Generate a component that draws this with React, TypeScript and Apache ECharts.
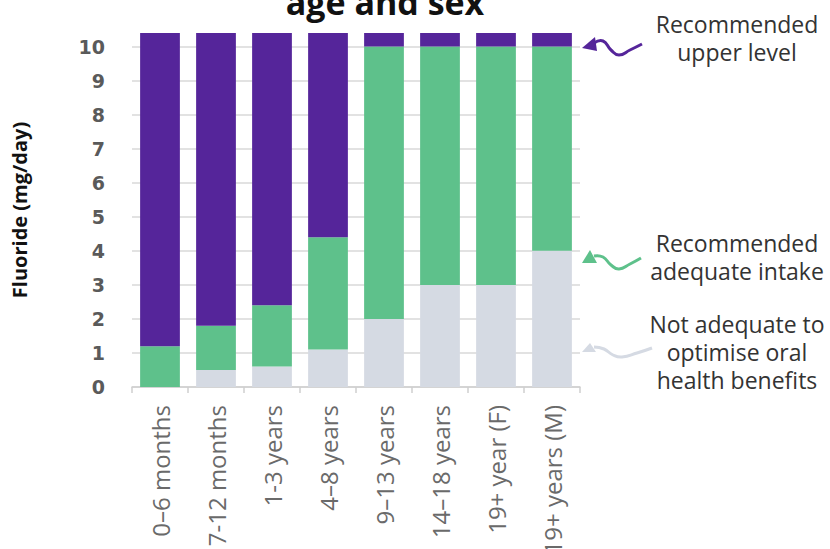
import React, { useEffect, useRef } from "react";
import * as echarts from "echarts";

const categories = [
  "0–6 months",
  "7-12 months",
  "1-3 years",
  "4–8 years",
  "9–13 years",
  "14–18 years",
  "19+ year (F)",
  "19+ years (M)",
];
// cumulative levels (mg/day)
const notAdequateTop = [0, 0.5, 0.6, 1.1, 2, 3, 3, 4];
const adequateTop = [1.2, 1.8, 2.4, 4.4, 10, 10, 10, 10];
const upperTop = [10.4, 10.4, 10.4, 10.4, 10.4, 10.4, 10.4, 10.4];

const PURPLE = "#55259a";
const GREEN = "#5ec18b";
const GREY = "#d5dae3";

const diff = (a: number[], b: number[]) => a.map((v, i) => Number((v - b[i]).toFixed(2)));

export default function App() {
  const ref = useRef<HTMLDivElement>(null);
  useEffect(() => {
    if (!ref.current) return;
    const chart = echarts.init(ref.current, null, { renderer: "svg" });
    const annFont = '"Open Sans", sans-serif';
    const annStyle = (text: string) => ({
      text,
      font: '23px "Open Sans", sans-serif',
      lineHeight: 28,
      align: "center",
      verticalAlign: "middle",
      fill: "#333",
    });
    chart.setOption({
      animation: false,
      backgroundColor: "#ffffff",
      grid: {
        left: 132,
        right: 250,
        top: 33,
        bottom: 162,
        containLabel: false,
        outerBoundsMode: "none",
      },
      xAxis: {
        type: "category",
        data: categories,
        boundaryGap: true,
        axisLine: { show: true, lineStyle: { color: "#cfcfcf", width: 1.5 } },
        axisTick: { show: true, length: 6, lineStyle: { color: "#cfcfcf", width: 1.5 } },
        axisLabel: {
          rotate: 90,
          interval: 0,
          margin: 18,
          fontSize: 24,
          color: "#6a6a6a",
          fontFamily: annFont,
        },
      },
      yAxis: {
        type: "value",
        min: 0,
        max: 10.4,
        interval: 1,
        name: "Fluoride (mg/day)",
        nameLocation: "middle",
        nameGap: 103,
        nameTextStyle: { fontSize: 20, fontWeight: "bold", color: "#111", fontFamily: annFont },
        axisLine: { show: false },
        axisTick: { show: false },
        axisLabel: {
          showMaxLabel: false,
          margin: 27,
          fontSize: 19,
          fontWeight: "bold",
          color: "#5a5a5a",
          fontFamily: '"DejaVu Sans", sans-serif',
        },
        splitLine: { show: true, showMaxLine: false, lineStyle: { color: "#d9d9d9", width: 1.5 } },
      },
      series: [
        {
          name: "Not adequate",
          type: "bar",
          stack: "f",
          barCategoryGap: "29%",
          itemStyle: { color: GREY },
          data: notAdequateTop,
        },
        {
          name: "Adequate",
          type: "bar",
          stack: "f",
          itemStyle: { color: GREEN },
          data: diff(adequateTop, notAdequateTop),
        },
        {
          name: "Upper",
          type: "bar",
          stack: "f",
          itemStyle: { color: PURPLE },
          data: diff(upperTop, adequateTop),
        },
      ],
      graphic: [
        {
          type: "text",
          x: 385,
          y: 2,
          style: {
            text: "age and sex",
            font: 'bold 34px "Open Sans", sans-serif',
            align: "center",
            verticalAlign: "middle",
            fill: "#111",
          },
        },
        { type: "text", x: 737, y: 38, style: annStyle("Recommended\nupper level") },
        { type: "text", x: 737, y: 257, style: annStyle("Recommended\nadequate intake") },
        {
          type: "text",
          x: 737,
          y: 352,
          style: annStyle("Not adequate to\noptimise oral\nhealth benefits"),
        },
        // purple arrow
        {
          type: "polygon",
          shape: { points: [[582, 48], [595, 37], [597, 51]] },
          style: { fill: PURPLE },
        },
        {
          type: "polyline",
          shape: {
            points: [[594, 43], [603, 41], [611, 50], [619, 55], [630, 50], [642, 44]],
            smooth: 0.5,
          },
          style: { stroke: PURPLE, lineWidth: 3, fill: "none" },
        },
        // green arrow
        {
          type: "polygon",
          shape: { points: [[582, 263], [590, 250], [597, 263]] },
          style: { fill: GREEN },
        },
        {
          type: "polyline",
          shape: {
            points: [[594, 256], [603, 257], [611, 265], [619, 269], [630, 264], [641, 258]],
            smooth: 0.5,
          },
          style: { stroke: GREEN, lineWidth: 3, fill: "none" },
        },
        // grey arrow
        {
          type: "polygon",
          shape: { points: [[582, 352], [590, 343], [596, 352]] },
          style: { fill: GREY },
        },
        {
          type: "polyline",
          shape: {
            points: [[594, 347], [604, 349], [613, 355], [622, 357], [637, 353], [652, 348]],
            smooth: 0.5,
          },
          style: { stroke: GREY, lineWidth: 3, fill: "none" },
        },
      ],
    });
    return () => chart.dispose();
  }, []);
  return (
    <div
      ref={ref}
      style={{ position: "fixed", left: 0, top: 0, width: 830, height: 549, background: "#fff" }}
    />
  );
}
